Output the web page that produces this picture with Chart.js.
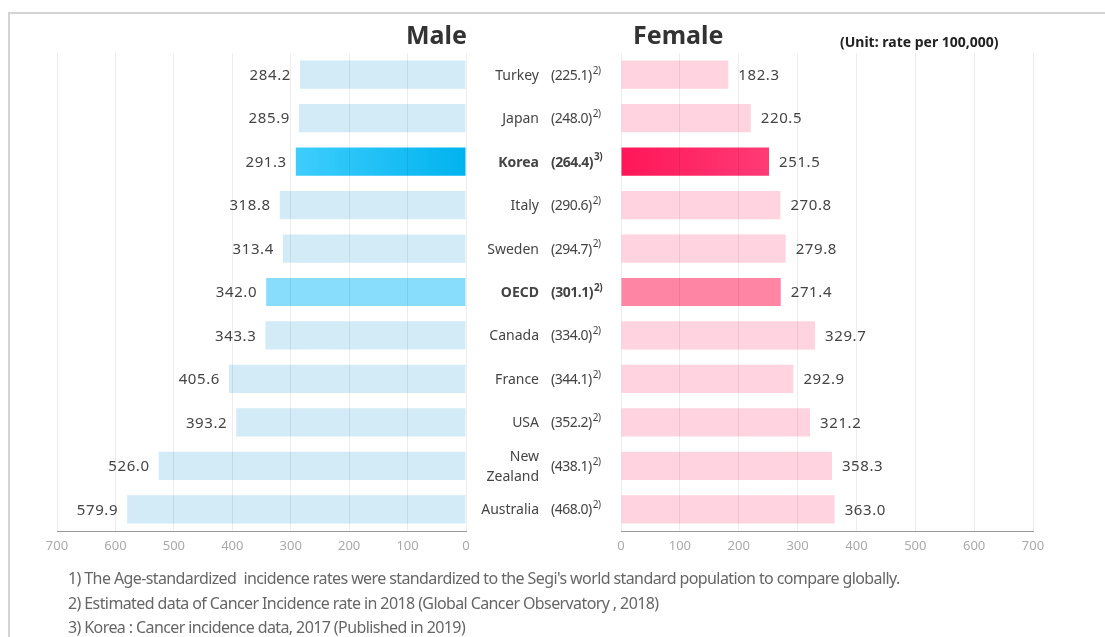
<!DOCTYPE html>
<html>
<head>
<meta charset="utf-8">
<script src="https://cdn.jsdelivr.net/npm/chart.js@4/dist/chart.umd.min.js"></script>
<style>
  body { margin: 0; background: #fff; font-family: "Noto Sans", sans-serif; }
  #wrap { position: relative; width: 1105px; height: 637px; overflow: hidden; }
  #frame { position: absolute; left: 8px; top: 12px; right: -4px; bottom: -4px;
           border-top: 2px solid #d4d4d4; border-left: 2px solid #d4d4d4; }
  canvas { position: absolute; top: 0; }
  #male { left: 0; }
  #female { left: 470px; }
  .title { position: absolute; top: 17px; font-size: 25px; font-weight: bold; color: #333; }
  #unit { position: absolute; left: 840px; top: 32px; font-size: 14px; font-weight: bold; color: #222; letter-spacing: 0px; }
  #notes { position: absolute; left: 68px; top: 566px; font-size: 16px; color: #666; line-height: 24.5px; letter-spacing: -0.6px; }
</style>
</head>
<body>
<div id="wrap">
  <div id="frame"></div>
  <canvas id="male" width="480" height="637"></canvas>
  <canvas id="female" width="635" height="637"></canvas>
  <div class="title" style="left:406px">Male</div>
  <div class="title" style="left:633px">Female</div>
  <div id="unit">(Unit: rate per 100,000)</div>
  <div id="notes">
    1) The Age-standardized&nbsp; incidence rates were standardized to the Segi's world standard population to compare globally.<br>
    2) Estimated data of Cancer Incidence rate in 2018 (Global Cancer Observatory , 2018)<br>
    3) Korea : Cancer incidence data, 2017 (Published in 2019)
  </div>
</div>
<script>
// 국가별 암 발생률 (인구 10만명당)
const countries = ['Turkey', 'Japan', 'Korea', 'Italy', 'Sweden', 'OECD', 'Canada', 'France', 'USA', 'New Zealand', 'Australia'];
const maleRates = [284.2, 285.9, 291.3, 318.8, 313.4, 342.0, 343.3, 405.6, 393.2, 526.0, 579.9];
const femaleRates = [182.3, 220.5, 251.5, 270.8, 279.8, 271.4, 329.7, 292.9, 321.2, 358.3, 363.0];
const totalRates = ['225.1', '248.0', '264.4', '290.6', '294.7', '301.1', '334.0', '344.1', '352.2', '438.1', '468.0'];
const noteRefs = ['2)', '2)', '3)', '2)', '2)', '2)', '2)', '2)', '2)', '2)', '2)'];
const axisTicks = [0, 100, 200, 300, 400, 500, 600, 700];

const KOREA = countries.indexOf('Korea');
const OECD = countries.indexOf('OECD');
const FONT = '"Noto Sans", sans-serif';

// 막대 색상 (한국은 왼쪽->오른쪽 그라데이션)
const barColor = (light, oecd, grad) => (c) => {
  if (c.dataIndex === OECD) return oecd;
  if (c.dataIndex !== KOREA) return light;
  const xs = c.chart.scales.x;
  if (!xs || xs.left === undefined) return grad[0];
  const a = xs.getPixelForValue(0), b = xs.getPixelForValue(c.raw);
  const g = c.chart.ctx.createLinearGradient(Math.min(a, b), 0, Math.max(a, b), 0);
  g.addColorStop(0, grad[0]);
  g.addColorStop(1, grad[1]);
  return g;
};

const valueLabels = (side) => ({
  id: 'valueLabels',
  afterDatasetsDraw(chart) {
    const ctx = chart.ctx;
    const data = chart.data.datasets[0].data;
    ctx.save();
    ctx.font = '15px ' + FONT;
    ctx.fillStyle = '#444';
    ctx.letterSpacing = '0.6px';
    ctx.textBaseline = 'middle';
    chart.getDatasetMeta(0).data.forEach((bar, i) => {
      const txt = data[i].toFixed(1);
      if (side === 'left') { ctx.textAlign = 'right'; ctx.fillText(txt, bar.x - 9, bar.y + 1); }
      else { ctx.textAlign = 'left'; ctx.fillText(txt, bar.x + 10, bar.y + 1); }
    });
    ctx.restore();
  }
});

// 가운데 국가명과 전체 발생률
const centerLabels = {
  id: 'centerLabels',
  afterDraw(chart) {
    const ctx = chart.ctx;
    const ys = chart.scales.y;
    const nameX = 69, valX = 81;
    ctx.save();
    ctx.fillStyle = '#444';
    ctx.textBaseline = 'middle';
    countries.forEach((name, i) => {
      const y = ys.getPixelForValue(i) + 1;
      const bold = (i === KOREA || i === OECD) ? 'bold ' : '';
      ctx.font = bold + '14px ' + FONT;
      ctx.textAlign = 'right';
      if (name === 'New Zealand') {
        ctx.fillText('New', nameX, y - 10);
        ctx.fillText('Zealand', nameX, y + 10);
      } else {
        ctx.fillText(name, nameX, y);
      }
      ctx.textAlign = 'left';
      ctx.letterSpacing = '-0.5px';
      const t = '(' + totalRates[i] + ')';
      ctx.fillText(t, valX, y);
      const w = ctx.measureText(t).width;
      ctx.font = bold + '10px ' + FONT;
      ctx.fillText(noteRefs[i], valX + w + 1, y - 5);
      ctx.letterSpacing = '0px';
    });
    ctx.restore();
  }
};

const xAxis = (reverse) => ({
  type: 'linear', min: 0, max: 700, reverse: reverse,
  afterFit(s) { s.height = 30; },
  afterBuildTicks(s) { s.ticks = axisTicks.map(v => ({ value: v })); },
  grid: { color: 'rgba(0,0,0,0.07)', drawTicks: false, z: 1 },
  border: { display: true, color: '#999', width: 1, z: 2 },
  ticks: { color: '#aaa', padding: 7, font: { family: FONT, size: 13 } }
});

const baseOptions = (reverse, padding) => ({
  responsive: false,
  animation: false,
  indexAxis: 'y',
  layout: { padding: padding },
  plugins: { legend: { display: false }, tooltip: { enabled: false } },
  scales: {
    x: xAxis(reverse),
    y: { type: 'category', display: false, grid: { display: false } }
  }
});

new Chart(document.getElementById('male'), {
  type: 'bar',
  data: {
    labels: countries,
    datasets: [{
      data: maleRates,
      backgroundColor: barColor('#d2ebf6', '#88ddfc', ['#3ecdfd', '#00b3ee']),
      barPercentage: 1, categoryPercentage: 0.65
    }]
  },
  options: baseOptions(true, { left: 57, right: 14, top: 53, bottom: 76 }),
  plugins: [valueLabels('left')]
});

new Chart(document.getElementById('female'), {
  type: 'bar',
  data: {
    labels: countries,
    datasets: [{
      data: femaleRates,
      backgroundColor: barColor('#ffd3e0', '#ff85a4', ['#ff1659', '#ff3b75']),
      barPercentage: 1, categoryPercentage: 0.65
    }]
  },
  options: baseOptions(false, { left: 151, right: 72, top: 53, bottom: 76 }),
  plugins: [valueLabels('right'), centerLabels]
});
</script>
</body>
</html>
